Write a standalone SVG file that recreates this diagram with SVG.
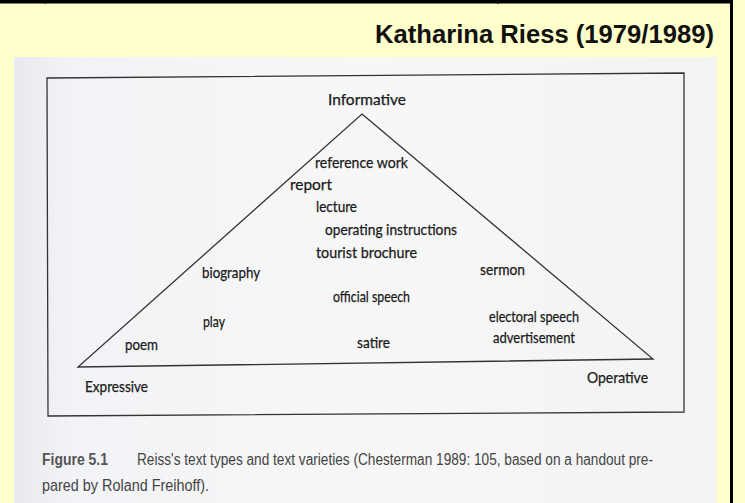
<svg xmlns="http://www.w3.org/2000/svg" width="745" height="503" viewBox="0 0 745 503">
<defs>
<linearGradient id="paper" x1="0" y1="0" x2="1" y2="0">
<stop offset="0" stop-color="#e8eaef"/>
<stop offset="0.08" stop-color="#f2f3f6"/>
<stop offset="0.5" stop-color="#f7f7f7"/>
<stop offset="1" stop-color="#f3f3f3"/>
</linearGradient>
<style>
.lbl{font-family:Lato,"Open Sans","Liberation Sans",sans-serif;font-size:15px;fill:#1a1a1a;stroke:#1a1a1a;stroke-width:0.25;}
.cap{font-family:"Liberation Sans Narrow","Liberation Sans",sans-serif;font-size:16px;fill:#444;}
.line{fill:none;stroke:#333;stroke-width:1.3;}
</style>
</defs>
<rect x="0" y="0" width="745" height="503" fill="#ffffcc"/>
<rect x="14" y="57" width="703" height="446" fill="url(#paper)"/>
<g id="table-borders">
<rect x="0" y="0" width="733" height="3.5" fill="#000"/>
<rect x="44" y="0" width="2" height="3.5" fill="#000"/>
<rect x="497" y="0" width="2" height="3.5" fill="#000"/>
<rect x="730" y="0" width="3" height="503" fill="#000"/>
</g>
<text id="title" x="714" y="43" text-anchor="end" textLength="339" lengthAdjust="spacingAndGlyphs" style="font-family:'Liberation Sans',sans-serif;font-weight:bold;font-size:26px;fill:#111;">Katharina Riess (1979/1989)</text>
<g id="frame"><polygon class="line" points="47,78 684,73 684,412 48,416"/></g>
<g id="connectors"><polygon class="line" points="362,114 653,359 78,367"/></g>
<g id="node-informative"><text class="lbl" x="328" y="105" textLength="78" lengthAdjust="spacingAndGlyphs">Informative</text></g>
<g id="node-reference-work"><text class="lbl" x="315" y="168" textLength="93" lengthAdjust="spacingAndGlyphs">reference work</text></g>
<g id="node-report"><text class="lbl" x="290" y="190" textLength="42" lengthAdjust="spacingAndGlyphs">report</text></g>
<g id="node-lecture"><text class="lbl" x="316" y="212" textLength="41" lengthAdjust="spacingAndGlyphs">lecture</text></g>
<g id="node-operating"><text class="lbl" x="325" y="235" textLength="132" lengthAdjust="spacingAndGlyphs">operating instructions</text></g>
<g id="node-tourist"><text class="lbl" x="316" y="258" textLength="101" lengthAdjust="spacingAndGlyphs">tourist brochure</text></g>
<g id="node-biography"><text class="lbl" x="202" y="278" textLength="58" lengthAdjust="spacingAndGlyphs">biography</text></g>
<g id="node-sermon"><text class="lbl" x="480" y="275" textLength="45" lengthAdjust="spacingAndGlyphs">sermon</text></g>
<g id="node-official"><text class="lbl" x="333" y="302" textLength="77" lengthAdjust="spacingAndGlyphs">official speech</text></g>
<g id="node-electoral"><text class="lbl" x="489" y="322" textLength="90" lengthAdjust="spacingAndGlyphs">electoral speech</text></g>
<g id="node-play"><text class="lbl" x="203" y="327" textLength="22" lengthAdjust="spacingAndGlyphs">play</text></g>
<g id="node-advertisement"><text class="lbl" x="493" y="343" textLength="82" lengthAdjust="spacingAndGlyphs">advertisement</text></g>
<g id="node-satire"><text class="lbl" x="357" y="348" textLength="33" lengthAdjust="spacingAndGlyphs">satire</text></g>
<g id="node-poem"><text class="lbl" x="125" y="350" textLength="33" lengthAdjust="spacingAndGlyphs">poem</text></g>
<g id="node-expressive"><text class="lbl" x="85" y="392" textLength="63" lengthAdjust="spacingAndGlyphs">Expressive</text></g>
<g id="node-operative"><text class="lbl" x="587" y="383" textLength="61" lengthAdjust="spacingAndGlyphs">Operative</text></g>
<g id="caption">
<text class="cap" x="42" y="465" textLength="66" lengthAdjust="spacingAndGlyphs" style="font-weight:bold;fill:#555;">Figure 5.1</text>
<text class="cap" x="137" y="465" textLength="516" lengthAdjust="spacingAndGlyphs">Reiss's text types and text varieties (Chesterman 1989: 105, based on a handout pre-</text>
<text class="cap" x="42" y="491" textLength="167" lengthAdjust="spacingAndGlyphs">pared by Roland Freihoff).</text>
</g>
</svg>
